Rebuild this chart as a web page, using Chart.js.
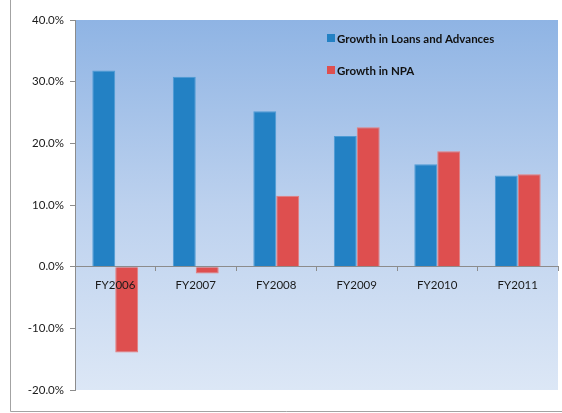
<!DOCTYPE html>
<html>
<head>
<meta charset="utf-8">
<title>Growth in Loans and Advances vs Growth in NPA</title>
<script src="https://cdn.jsdelivr.net/npm/chart.js@4/dist/chart.umd.min.js"></script>
<style>
  html, body { margin: 0; padding: 0; background: #ffffff; }
  #wrap { width: 562px; height: 413px; }
</style>
</head>
<body>
<div id="wrap"><canvas id="growthChart" width="562" height="413"></canvas></div>
<script>
const years = ['FY2006', 'FY2007', 'FY2008', 'FY2009', 'FY2010', 'FY2011'];
const loanGrowth = [31.8, 30.8, 25.2, 21.2, 16.6, 14.8];
const npaGrowth = [-13.9, -1.1, 11.5, 22.6, 18.7, 15.0];
const yTicks = [-20, -10, 0, 10, 20, 30, 40];

const AXIS_GREY = '#8c8c8c';
const FONT = 'Lato, "Liberation Sans", sans-serif';

// gradient fill behind the bars, plus the thin frame round the chart
const backdrop = {
  id: 'backdrop',
  beforeDraw(chart) {
    const { ctx, chartArea: a } = chart;
    const g = ctx.createLinearGradient(0, a.top, 0, a.bottom);
    g.addColorStop(0, '#8fb4e4');
    g.addColorStop(0.5, '#bcd1ee');
    g.addColorStop(1, '#dce7f6');
    ctx.save();
    ctx.fillStyle = g;
    ctx.fillRect(a.left, a.top, a.right - a.left, a.bottom - a.top);
    ctx.strokeStyle = '#a3a3a3';
    ctx.lineWidth = 1;
    ctx.beginPath();
    ctx.moveTo(10.5, 0);
    ctx.lineTo(10.5, 411.5);
    ctx.lineTo(chart.width, 411.5);
    ctx.stroke();
    ctx.restore();
  }
};

// legend sits inside the plot, top right
const innerLegend = {
  id: 'innerLegend',
  afterDraw(chart) {
    const { ctx, chartArea: a } = chart;
    ctx.save();
    ctx.font = 'bold 11.5px ' + FONT;
    ctx.textBaseline = 'middle';
    chart.data.datasets.forEach((ds, i) => {
      const x = a.left + 252;
      const y = a.top + 18 + i * 32;
      ctx.fillStyle = ds.backgroundColor;
      ctx.fillRect(x, y - 4, 8, 8);
      ctx.fillStyle = '#111111';
      ctx.fillText(ds.label, x + 10, y + 1);
    });
    ctx.restore();
  }
};

new Chart(document.getElementById('growthChart'), {
  type: 'bar',
  data: {
    labels: years,
    datasets: [{
      label: 'Growth in Loans and Advances',
      data: loanGrowth,
      backgroundColor: '#2381c4',
      borderColor: '#4d9bd5',
      borderWidth: 1,
      categoryPercentage: 0.57,
      barPercentage: 1
    }, {
      label: 'Growth in NPA',
      data: npaGrowth,
      backgroundColor: '#de4f4f',
      borderColor: '#e67c7c',
      borderWidth: 1,
      categoryPercentage: 0.57,
      barPercentage: 1
    }]
  },
  options: {
    responsive: false,
    animation: false,
    layout: { padding: { left: 10, top: 20, right: 4, bottom: 23 } },
    plugins: {
      legend: { display: false },
      tooltip: { enabled: false }
    },
    scales: {
      x: {
        position: { y: 0 },
        grid: { drawOnChartArea: false, tickLength: 4, color: AXIS_GREY, offset: true },
        border: { color: AXIS_GREY },
        // category names are printed on top of the negative bars
        ticks: { z: 1, color: '#1a1a1a', font: { family: FONT, size: 11.5 }, padding: 8, maxRotation: 0 }
      },
      y: {
        min: -20,
        max: 40,
        afterBuildTicks: s => { s.ticks = yTicks.map(v => ({ value: v })); },
        afterFit: s => { s.width = 65; },
        grid: { drawOnChartArea: false, tickLength: 5, color: AXIS_GREY },
        border: { color: AXIS_GREY },
        ticks: {
          color: '#1a1a1a',
          font: { family: FONT, size: 11.5 },
          padding: 6,
          callback: v => v.toFixed(1) + '%'
        }
      }
    }
  },
  plugins: [backdrop, innerLegend]
});
</script>
</body>
</html>
